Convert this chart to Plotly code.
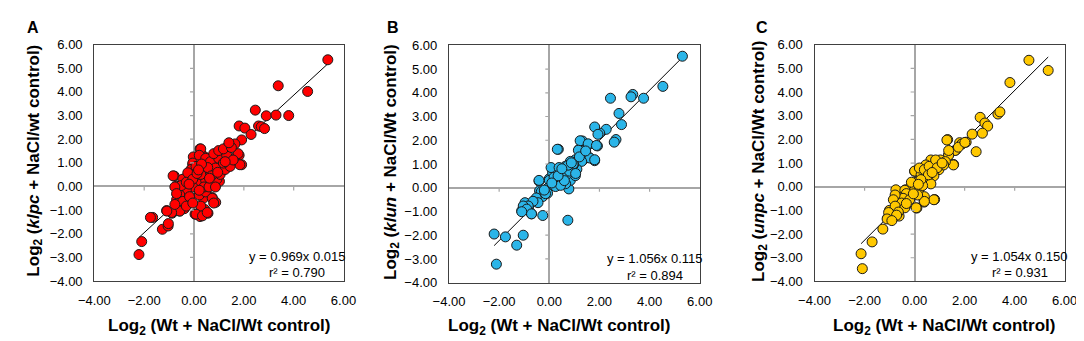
import plotly.graph_objects as go

# ---------------- data ----------------
# Panel A: klpc
a_x = [5.37, 3.38, 4.56, 2.46, 2.90, 3.29, 3.80, 1.81, 2.04, 2.59, 2.70, 2.83, 2.29, 1.91,
       1.91, 1.81, 1.61, -0.79, -0.71, -0.68, -1.66, -1.10, -1.27, -1.04, -2.10, -2.21,
       -0.88, -0.58, -0.58, -0.31, -0.39, 0.04, 0.24, 0.43, 0.56, 0.73, 0.87, 0.37, -0.42,
       -0.55, -0.03, -0.05, 0.24, 0.30, 0.43, 0.67, 1.02, 1.09, 1.02, 0.39, 0.00,
       0.27, 0.21, -0.05, -0.12, -0.84, -0.45, 0.01, 0.47, 0.66, 0.99, 1.31, 1.38, 1.64,
       1.77, 1.84, 1.12, 0.86, 0.60, 0.34, 0.14, -0.05, -0.31, -0.57, -0.70, -0.45, -0.18,
       0.21, 0.47, 0.73, 0.79, 0.27, 0.08, 0.34, 0.53, -0.57, -0.90, -1.09, -1.75, -1.03,
       -0.77, -0.31, -0.05, 0.47, 0.66, 0.92, 1.05, 1.25, 1.45, 1.57, 1.18, 0.79, 0.99,
       1.18, 0.40, 0.14, 0.27, 0.08, -0.25, -0.51, -0.77, -0.70, -0.31, 0.40, 0.60, 0.86,
       0.21, -0.05, 1.25, 1.50, 0.55, 0.70, 0.95, 0.12, 0.30, -0.20, 1.40, 0.62, 0.18]
a_y = [5.36, 4.26, 4.02, 3.23, 2.99, 3.02, 3.00, 2.56, 2.47, 2.56, 2.53, 2.45, 2.20, 1.97,
       0.92, 1.32, 1.19, 0.44, 0.01, -0.34, -1.31, -1.02, -1.81, -1.67, -2.33, -2.88,
       -1.13, -0.80, -1.04, -0.63, -0.94, -1.17, -1.27, -0.97, -1.13, -0.47, -0.67, -0.50, 0.31,
       -0.03, 1.25, 0.92, 1.59, 1.36, 1.25, 1.19, 1.19, 0.92, 0.22, 0.01, 0.35,
       1.59, 1.32, 0.99, 0.72, 0.45, 0.31, 0.38, 1.19, 1.05, 1.19, 1.32, 1.73, 1.80,
       1.39, 0.92, 0.65, 0.78, 0.51, 0.25, 0.11, -0.02, -0.16, -0.36, -0.56, -0.63, -0.43,
       -0.36, -0.23, -0.50, -0.70, -0.83, -1.17, -1.24, -1.10, -1.04, -1.10, -1.04, -1.31, -1.57,
       -0.76, -0.83, -0.70, 0.25, 0.11, 0.31, 0.51, 0.72, 0.85, 1.12, 0.99, 1.39, 1.52,
       1.59, 0.78, 0.65, 0.51, 0.85, 0.58, 0.04, -0.02, -0.30, 0.18, -0.02, -0.02, -0.02,
       -0.16, 0.31, 1.05, 1.65, 0.80, 0.45, 0.60, 0.55, 0.95, 0.10, 1.85, 0.35, 0.70]

# Panel B: klun
b_x = [5.31, 4.53, 3.76, 3.33, 3.26, 2.44, 2.78, 2.88, 2.66, 2.59, 2.27, 2.01, 1.81, 1.92,
       1.81, 1.58, 1.55, 1.32, 1.19, 1.36, 0.36, 0.74, -0.26, -2.20, -1.75, -1.04, -1.30,
       -2.11, -1.10, -0.71, -0.91, -0.83, -0.97, -0.62, -0.41, -0.39, -0.06, 0.00, 0.78,
       0.32, 1.23, 1.55, 1.88, 1.94, 1.16, 1.42, 1.04, 1.62, 1.81, 1.29, 0.84, 0.65, 0.91,
       1.10, 0.45, 0.26, 0.13, 0.39, 0.65, 0.84, 1.04, 0.52, 0.32, 0.00, -0.41, -0.07,
       0.13, 0.65, -0.32, -0.26, -0.07, -0.52, -0.45, -0.65, -0.84, -1.04, -0.90, -0.71,
       -1.10, 0.19, 0.07, 0.39, 0.71, 0.97, 0.55, 0.80, 0.25, 0.95, 1.20, 0.45, -0.15,
       0.60, 1.05, 0.35, 0.10, -0.20, 0.75, 0.50, 1.45, 0.88]
b_y = [5.54, 4.27, 3.77, 3.93, 3.83, 3.77, 3.13, 2.66, 2.03, 1.92, 2.46, 2.30, 2.56, 1.76,
       1.14, 1.28, 1.81, 1.97, 1.62, 1.18, 1.62, -1.37, -1.17, -1.95, -2.07, -2.00, -2.42,
       -3.22, -0.97, -1.10, -0.74, -0.83, -0.63, -0.56, 0.28, -0.13, -0.03, 0.38, -0.05,
       1.62, 1.98, 1.85, 1.78, 2.25, 1.58, 1.38, 1.18, 1.25, 1.18, 1.11, 1.11, 0.91, 0.78,
       0.78, 0.71, 0.64, 0.64, 0.44, 0.44, 0.31, 0.51, 0.31, 0.24, 0.31, 0.31, -0.03,
       0.11, 0.17, -0.17, -0.37, -0.23, -0.43, -0.63, -0.57, -0.77, -0.77, -0.90, -1.10,
       -1.01, 0.44, 0.85, 0.85, 0.58, 0.98, 0.55, 0.70, 0.05, 1.00, 1.30, 0.10, -0.25,
       0.30, 0.60, 0.50, 0.20, -0.10, 0.95, 0.80, 1.55, 1.05]

# Panel C: unpc
c_x = [4.57, 5.34, 3.81, 3.33, 3.41, 2.62, 2.81, 2.92, 2.71, 2.30, 2.46, 2.06, 1.91, 1.80,
       1.32, 1.65, 1.56, 1.36, 1.26, 0.00, 0.35, 0.38, 0.80, 0.09, -0.36, -0.36, -0.69,
       -0.75, -0.82, -0.56, -0.65, -0.62, -1.01, -1.08, -0.88, -1.27, -1.70, -2.14, -2.09,
       1.29, 1.88, 1.62, 1.36, 1.03, 1.55, 0.84, 0.65, 0.45, 0.00, 0.26, 0.45, 0.65, 0.97,
       1.23, 0.77, 0.51, 0.32, 0.06, -0.07, -0.20, -0.39, 0.00, 0.19, -0.33, -0.46, -0.20,
       -0.78, -0.85, -0.52, -0.78, -0.39, 0.06, 0.39, 0.77, 0.39, -1.04, -0.65, -0.72,
       -1.10, -0.91, -0.33, 0.12, -0.13, 0.19, 0.39, 0.58, 0.84, 1.16, 0.65, 0.32, 1.36,
       1.75, 2.01, 0.55, 0.90, 0.25, 1.10, 0.70, 0.15, -0.05]
c_y = [5.34, 4.91, 4.40, 3.07, 3.16, 2.93, 2.69, 2.56, 2.26, 2.22, 1.48, 1.88, 1.82, 1.86,
       1.99, 1.55, 0.94, 1.35, 1.14, 0.65, -0.47, -0.65, -0.54, -0.90, -0.81, -0.13, -0.27,
       -0.13, -0.54, -0.67, -1.00, -1.24, -1.00, -1.32, -1.35, -1.79, -2.33, -2.83, -3.46,
       1.97, 1.80, 1.53, 1.33, 1.13, 0.92, 0.92, 1.13, 0.92, 0.66, 0.52, 0.25, 0.66, 0.72,
       1.06, 0.46, 0.39, 0.32, 0.19, 0.05, -0.08, -0.15, -0.15, -0.08, -0.29, -0.49, -0.55,
       -0.35, -0.55, -0.69, -0.82, -0.89, -0.89, -0.42, -0.55, -0.62, -1.09, -1.07, -1.20,
       -1.36, -1.43, -0.71, -0.35, 0.19, 0.79, 0.72, 0.86, 1.13, 0.92, 0.12, 0.05, 1.53,
       1.67, 1.87, 0.50, 0.80, 0.30, 1.00, 0.60, 0.10, -0.30]

fits = [(0.969, -0.015, "y = 0.969x 0.015", "r² = 0.790"),
        (1.056, -0.115, "y = 1.056x 0.115", "r² = 0.894"),
        (1.054, -0.150, "y = 1.054x 0.150", "r² = 0.931")]
genes = ["klpc", "klun", "unpc"]
ctrl_word = ["wt", "Wt", "Wt"]
letters = ["A", "B", "C"]
colors = ["#FF0000", "#2BB5E8", "#FFC800"]
axis_ticks = [-4, -2, 0, 2, 4, 6]
y_ticks = [-4, -3, -2, -1, 0, 1, 2, 3, 4, 5, 6]

# ---------------- layout geometry (pixels) ----------------
W, H = 1084, 341
frames = [(72.3, 328.3, 31.0, 278.3), (436.7, 694.3, 31.7, 280.0), (812.3, 1069.3, 31.0, 278.7)]
ytitle_x = [11, 378, 756]
xtitle_x = [200, 550, 945]
letter_x = [9, 379, 758]
eq_x = [281, 648, 1023]
eq_y = [(253, 269), (255, 272), (253, 269)]

fig = go.Figure()
datasets = [(a_x, a_y), (b_x, b_y), (c_x, c_y)]
annotations = []
shapes = []
FONT = "Liberation Sans, Arial, sans-serif"

for i, (xs, ys) in enumerate(datasets):
    suffix = "" if i == 0 else str(i + 1)
    xa, ya = "x" + suffix, "y" + suffix
    slope, icpt, eq, r2 = fits[i]
    x0, x1 = min(xs), max(xs)
    fig.add_trace(go.Scatter(x=[x0, x1], y=[slope * x0 + icpt, slope * x1 + icpt],
                             mode="lines", line=dict(color="#000000", width=1),
                             xaxis=xa, yaxis=ya, showlegend=False, hoverinfo="skip"))
    fig.add_trace(go.Scatter(x=xs, y=ys, mode="markers", xaxis=xa, yaxis=ya,
                             marker=dict(size=10, color=colors[i],
                                         line=dict(color="#1a1a1a", width=1)),
                             showlegend=False))
    l, r, t, b = frames[i]
    common = dict(range=[-4, 6], showgrid=False, zeroline=True, zerolinecolor="#A6A6A6",
                  zerolinewidth=1.5, showline=True, mirror=True, linecolor="#404040",
                  linewidth=1.3, ticks="", tickformat=".2f",
                  tickfont=dict(family=FONT, size=13, color="#000000"))
    fig.update_layout(**{
        ("xaxis" + suffix): dict(domain=[l / W, r / W], anchor=ya, tickvals=axis_ticks,
                                 ticklabelstandoff=7, **common),
        ("yaxis" + suffix): dict(domain=[1 - b / H, 1 - t / H], anchor=xa, tickvals=y_ticks,
                                 ticklabelstandoff=8, **common),
    })
    # interior tick marks on the zero axes
    for v in y_ticks:
        if v not in (0, -4, 6):
            shapes.append(dict(type="line", xref=xa, yref=ya, xsizemode="pixel", xanchor=0,
                               x0=-4, x1=0, y0=v, y1=v, line=dict(color="#A6A6A6", width=1.2)))
    for v in axis_ticks:
        if v not in (0, -4, 6):
            shapes.append(dict(type="line", xref=xa, yref=ya, ysizemode="pixel", yanchor=0,
                               y0=0, y1=-4, x0=v, x1=v, line=dict(color="#A6A6A6", width=1.2)))
    # texts
    annotations.append(dict(text=eq, x=eq_x[i] / W, y=1 - eq_y[i][0] / H, xref="paper", yref="paper",
                            showarrow=False, font=dict(family=FONT, size=13, color="#000"),
                            xanchor="center", yanchor="middle"))
    annotations.append(dict(text=r2, x=eq_x[i] / W, y=1 - eq_y[i][1] / H, xref="paper", yref="paper",
                            showarrow=False, font=dict(family=FONT, size=13, color="#000"),
                            xanchor="center", yanchor="middle"))
    annotations.append(dict(text=letters[i], x=letter_x[i] / W, y=1 - 13 / H,
                            xref="paper", yref="paper", showarrow=False,
                            font=dict(family=FONT, size=16, color="#000", weight="bold"),
                            xanchor="center", yanchor="middle"))
    annotations.append(dict(text="Log<sub>2</sub> (Wt + NaCl/Wt control)",
                            x=xtitle_x[i] / W, y=1 - 326 / H, xref="paper", yref="paper",
                            showarrow=False, font=dict(family=FONT, size=17, color="#000", weight="bold"),
                            xanchor="center", yanchor="middle"))
    annotations.append(dict(text="Log<sub>2</sub> (<i>" + genes[i] + "</i> + NaCl/" + ctrl_word[i] + " control)",
                            x=ytitle_x[i] / W, y=1 - ((t + b) / 2 - 2) / H, xref="paper", yref="paper",
                            textangle=-90, showarrow=False,
                            font=dict(family=FONT, size=17, color="#000", weight="bold"),
                            xanchor="center", yanchor="middle"))

fig.update_layout(width=W, height=H, margin=dict(l=0, r=0, t=0, b=0),
                  paper_bgcolor="white", plot_bgcolor="white",
                  annotations=annotations, shapes=shapes, font=dict(family=FONT))
fig.write_html("out.html")
